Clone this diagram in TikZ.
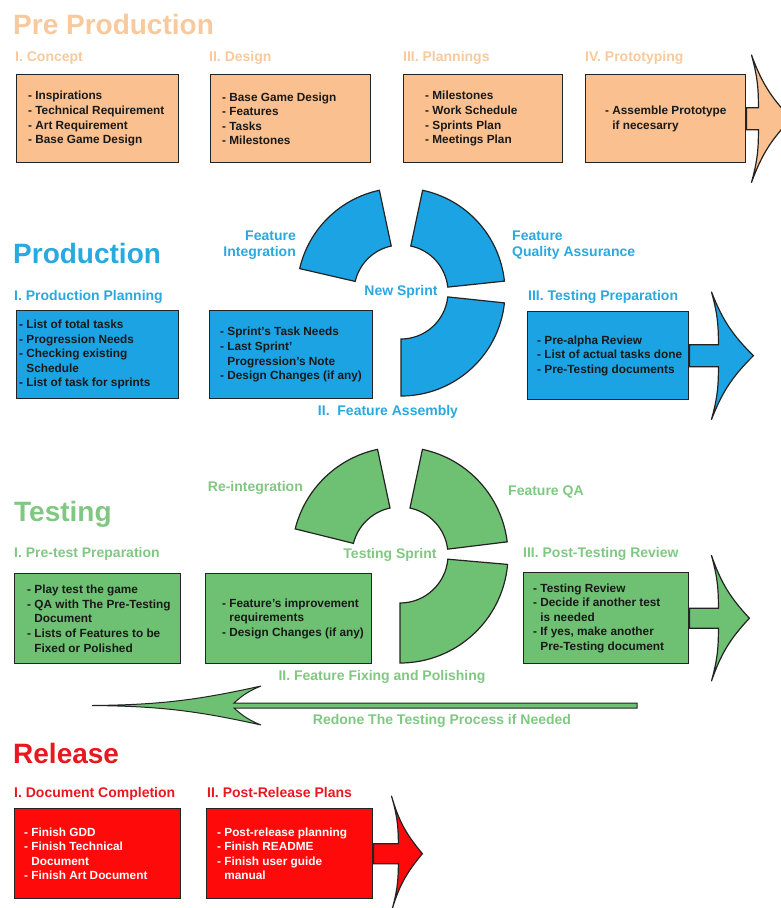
\documentclass[tikz,border=0pt]{standalone}
\usepackage{fontspec}
\setmainfont{Liberation Sans}
\usetikzlibrary{positioning}
\definecolor{preorange}{RGB}{250,192,143}
\definecolor{pretext}{RGB}{248,201,156}
\definecolor{prodblue}{RGB}{27,163,228}
\definecolor{prodtext}{RGB}{40,169,224}
\definecolor{testgreen}{RGB}{110,192,114}
\definecolor{testtext}{RGB}{128,200,130}
\definecolor{relred}{RGB}{255,10,10}
\definecolor{reltext}{RGB}{232,24,30}
\definecolor{edgegray}{RGB}{35,35,35}
\newcommand{\indentitem}{\hphantom{- }}
\tikzset{
  stage/.style={draw=edgegray, line width=1.4pt, minimum width=162pt, minimum height=88pt, inner sep=0pt, anchor=north west},
  wide stage/.style={stage, minimum width=166pt, minimum height=90pt},
  items/.style={font=\bfseries\fontsize{11.8}{14.6}\selectfont, align=left, inner sep=0pt, text=black!90},
  phase/.style={font=\bfseries\fontsize{14}{16}\selectfont, anchor=base west, inner sep=0pt},
  heading/.style={font=\bfseries\fontsize{28}{32}\selectfont, anchor=base west, inner sep=0pt},
  cyclelabel/.style={font=\bfseries\fontsize{14}{16}\selectfont, inner sep=0pt},
  piece/.style={draw=edgegray, line width=1.2pt},
  arrowline/.style={draw=edgegray, line width=1.2pt},
}

\begin{document}
\begin{tikzpicture}[x=1pt, y=-1pt]
\useasboundingbox (0,0) rectangle (781,908);
\clip (0,0) rectangle (781,908);
\newcommand{\ringpart}[6]{%
  \draw[piece, fill=#6] (#1) ++(#2:#5) arc[start angle=#2, end angle=#3, radius=#5]
    -- ++(#3:{#4-#5}) arc[start angle=#3, end angle=#2, radius=#4] -- cycle;
}
\newcommand{\stagearrow}[6]{%
  \draw[arrowline, fill=#2] (#1.east) ++(0,-#3) -- ++(#4,0) to[bend right=8] ++(-7,{#3-#6})
    to[bend right=12] ++(#5,#6) to[bend right=12] ++(-#5,#6) to[bend right=8] ++(7,{#3-#6})
    -- ++(-#4,0) -- cycle;
}

% pre production
\node[heading, text=pretext] (pretitle) at (13,34) {Pre Production};
\node[phase, text=pretext] (concepthead) at (15,61) {I. Concept};
\node[phase, text=pretext] (designhead) at (209,61) {II. Design};
\node[phase, text=pretext] (planhead) at (403,61) {III. Plannings};
\node[phase, text=pretext] (protohead) at (585,61) {IV. Prototyping};
\node[stage, fill=preorange] (concept) at (16,74) {};
\node[stage, fill=preorange, minimum width=160pt] (design) at (210,74) {};
\node[stage, fill=preorange, minimum width=159pt] (plan) at (403,74) {};
\node[stage, fill=preorange, minimum width=160pt] (proto) at (585,74) {};
\stagearrow{proto}{preorange}{11}{12}{40}{64}
\node[items, right=12pt of concept.west] (conceptlist) {- Inspirations\\- Technical Requirement\\- Art Requirement\\- Base Game Design};
\node[items, right=12pt of design.west] (designlist) {- Base Game Design\\- Features\\- Tasks\\- Milestones};
\node[items, right=22pt of plan.west] (planlist) {- Milestones\\- Work Schedule\\- Sprints Plan\\- Meetings Plan};
\node[items, right=20pt of proto.west] (protolist) {- Assemble Prototype\\\indentitem if necesarry};

% production
\node[heading, text=prodtext] (prodtitle) at (13,263) {Production};
\node[phase, text=prodtext] (planninghead) at (14,300) {I. Production Planning};
\node[phase, text=prodtext] (testprephead) at (528,300) {III. Testing Preparation};
\node[stage, fill=prodblue] (planning) at (16,310) {};
\node[stage, fill=prodblue, minimum width=163pt] (assembly) at (209,310) {};
\node[stage, fill=prodblue, minimum width=161pt] (testprep) at (527,311) {};
\stagearrow{testprep}{prodblue}{11}{29}{42}{64}
\node[items, right=3pt of planning.west] (planninglist) {- List of total tasks\\- Progression Needs\\- Checking existing\\\indentitem Schedule\\- List of task for sprints};
\node[items, right=11pt of assembly.west] (assemblylist) {- Sprint's Task Needs\\- Last Sprint'\\\indentitem Progression's Note\\- Design Changes (if any)};
\node[items, right=10pt of testprep.west] (testpreplist) {- Pre-alpha Review\\- List of actual tasks done\\- Pre-Testing documents};
\coordinate (sprint) at (401,292);
\foreach \a/\b in {-167/-102, -78/-6, 6/90} {
  \ringpart{sprint}{\a}{\b}{47}{104}{prodblue}
}
\node[cyclelabel, text=prodtext] (newsprint) at (sprint) {New Sprint};
\node[cyclelabel, text=prodtext, align=right, anchor=east] (integration) at (296,245) {Feature\\Integration};
\node[cyclelabel, text=prodtext, align=left, anchor=west] (quality) at (512,245) {Feature\\Quality Assurance};
\node[cyclelabel, text=prodtext] (assemblyhead) at (388,412) {II.\ \ Feature Assembly};

% testing
\node[heading, text=testtext] (testtitle) at (14,521) {Testing};
\node[phase, text=testtext] (pretesthead) at (14,557) {I. Pre-test Preparation};
\node[phase, text=testtext] (reviewhead) at (523,557) {III. Post-Testing Review};
\node[wide stage, fill=testgreen] (pretest) at (14,573) {};
\node[wide stage, fill=testgreen] (fixing) at (205,573) {};
\node[wide stage, fill=testgreen, minimum width=165pt, minimum height=91pt] (review) at (523,572) {};
\stagearrow{review}{testgreen}{10}{29}{38}{63}
\node[items, right=13pt of pretest.west] (pretestlist) {- Play test the game\\- QA with The Pre-Testing\\\indentitem Document\\- Lists of Features to be\\\indentitem Fixed or Polished};
\node[items, right=17pt of fixing.west] (fixinglist) {- Feature's improvement\\\indentitem requirements\\- Design Changes (if any)};
\node[items, right=10pt of review.west] (reviewlist) {- Testing Review\\- Decide if another test\\\indentitem is needed\\- If yes, make another\\\indentitem Pre-Testing document};
\coordinate (testsprint) at (400,555);
\foreach \a/\b in {-166/-102, -78/-7, 5/90} {
  \ringpart{testsprint}{\a}{\b}{48}{108}{testgreen}
}
\node[cyclelabel, text=testtext, xshift=-10pt] (testsprintlabel) at (testsprint) {Testing Sprint};
\node[cyclelabel, text=testtext, anchor=east] (reintegration) at (303,488) {Re-integration};
\node[cyclelabel, text=testtext, anchor=west] (featureqa) at (508,492) {Feature QA};
\node[cyclelabel, text=testtext] (fixinghead) at (382,677) {II. Feature Fixing and Polishing};

% redo loop
\coordinate (redostart) at (637,705.5);
\coordinate (redotip) at (92,705.5);
\draw[arrowline, line width=1pt, fill=testgreen] (redostart) ++(0,-2.5) -- ++(-403,0) to[bend left=10] ++(27,-17)
  to[bend left=6] (redotip) to[bend left=6] ++(169,19.5) to[bend left=10] ++(-27,-17) -- ++(403,0) -- cycle;
\node[cyclelabel, text=testtext] (redolabel) at (442,721) {Redone The Testing Process if Needed};

% release
\node[heading, text=reltext] (reltitle) at (13,763) {Release};
\node[phase, text=reltext] (dochead) at (14,797) {I. Document Completion};
\node[phase, text=reltext] (posthead) at (207,797) {II. Post-Release Plans};
\node[wide stage, fill=relred] (docs) at (14,808) {};
\node[wide stage, fill=relred] (postplans) at (206,808) {};
\stagearrow{postplans}{relred}{10}{25}{31}{58}
\node[items, text=white, right=10pt of docs.west] (doclist) {- Finish GDD\\- Finish Technical\\\indentitem Document\\- Finish Art Document};
\node[items, text=white, right=11pt of postplans.west] (postlist) {- Post-release planning\\- Finish README\\- Finish user guide\\\indentitem manual};
\end{tikzpicture}
\end{document}
